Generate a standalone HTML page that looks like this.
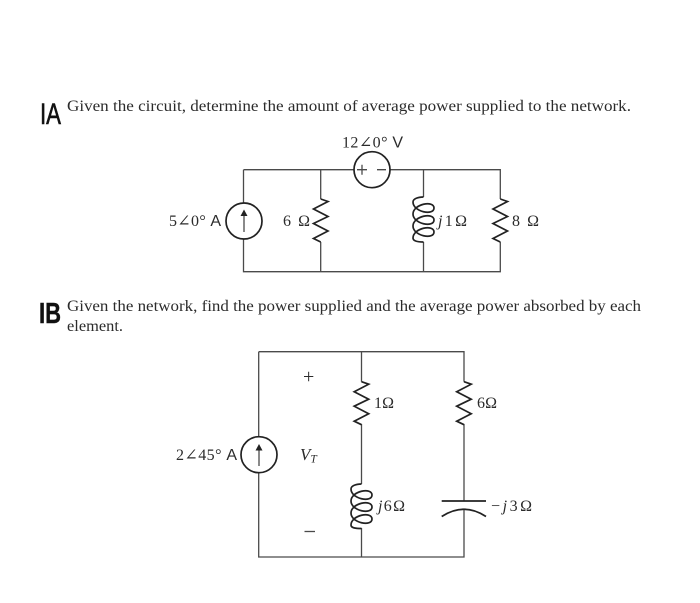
<!DOCTYPE html>
<html>
<head>
<meta charset="utf-8">
<style>
html,body{margin:0;padding:0;background:#fff;width:700px;height:603px;overflow:hidden}
svg{display:block;filter:blur(0.35px)}
text{font-family:"Liberation Serif","DejaVu Serif",serif;fill:#2b2b2b}
.sans{font-family:"Liberation Sans",sans-serif}
.w{fill:none;stroke:#4a4a4a;stroke-width:1.3}
.e{fill:none;stroke:#222;stroke-width:1.7;stroke-linejoin:miter}
.s{fill:#fff;stroke:#222;stroke-width:1.7}
</style>
</head>
<body>
<svg width="700" height="603" viewBox="0 0 700 603" xmlns="http://www.w3.org/2000/svg">
<rect width="700" height="603" fill="#fff"/>

<!-- handwritten labels -->
<text x="40" y="124" font-size="30" textLength="21" lengthAdjust="spacingAndGlyphs" style="fill:#111;stroke:#111;stroke-width:0.6;font-family:'Liberation Sans',sans-serif">IA</text>
<text x="39" y="323" font-size="29" font-weight="bold" textLength="22" lengthAdjust="spacingAndGlyphs" style="fill:#111;stroke:#111;stroke-width:0.4;font-family:'Liberation Sans',sans-serif">IB</text>

<!-- paragraphs -->
<text x="67" y="111" font-size="15.5" textLength="564" lengthAdjust="spacingAndGlyphs">Given the circuit, determine the amount of average power supplied to the network.</text>
<text x="67" y="311" font-size="15.5" textLength="574" lengthAdjust="spacingAndGlyphs">Given the network, find the power supplied and the average power absorbed by each</text>
<text x="67" y="331" font-size="15.5" textLength="56" lengthAdjust="spacingAndGlyphs">element.</text>

<!-- circuit A wires -->
<path class="w" d="M243.5 169.7H500.3V199M500.3 242V271.7H243.5V169.7M320.7 169.7V199M320.7 242V271.7M423.5 169.7V197M423.5 242V271.7"/>

<!-- circuit A current source -->
<circle class="s" cx="244" cy="221" r="18"/>
<path class="w" d="M244 232V214"/>
<path d="M244 209.5L240.5 216H247.5Z" fill="#222"/>

<!-- circuit A voltage source -->
<circle class="s" cx="372" cy="169.7" r="18"/>
<path class="w" d="M357 169.7H367M362 164.7V174.7M377 169.7H386"/>

<!-- circuit A resistors -->
<path class="e" d="M320.7 199L328 201.5L313.5 209L328 216.5L313.5 223.5L328 231L313.5 238.5L320.7 242"/>
<path class="e" d="M500.3 199L507.5 201.5L493 209L507.5 216.5L493 223.5L507.5 231L493 238.5L500.3 242"/>

<!-- circuit A inductor -->
<path class="e" d="M423.5 197c-6 0-10.500 2-10.500 5c0 10 21 14 21 6c0-8-21-4-21 6c0 10 21 14 21 6c0-8-21-4-21 6c0 10 21 14 21 6c0-8-21-4-21 6c0 3 4.500 4 10.500 4"/>

<!-- circuit A labels -->
<text x="342" y="147.500" font-size="16" textLength="61">12∠0° <tspan class="sans">V</tspan></text>
<text x="169" y="226" font-size="16" textLength="52">5∠0° <tspan class="sans">A</tspan></text>
<text x="283" y="226" font-size="16" textLength="27">6 Ω</text>
<text x="438" y="226" font-size="16" textLength="29"><tspan font-style="italic">j</tspan>1Ω</text>
<text x="512" y="226" font-size="16" textLength="27">8 Ω</text>

<!-- circuit B wires -->
<path class="w" d="M258.700 351.700H464V381.700M464 424V501M464 509V557H258.700V351.700M361.500 351.700V381.700M361.500 424V484M361.500 528V557"/>

<!-- circuit B current source -->
<circle class="s" cx="259" cy="454.700" r="18"/>
<path class="w" d="M259 466V448"/>
<path d="M259 444L255.500 450.500H262.500Z" fill="#222"/>

<!-- circuit B resistors -->
<path class="e" d="M361.500 381.700L368.700 384.200L354.200 391.700L368.700 399.200L354.200 406.200L368.700 413.700L354.200 421.200L361.500 424.700"/>
<path class="e" d="M464 381.700L471.200 384.200L456.700 391.700L471.200 399.200L456.700 406.200L471.200 413.700L456.700 421.200L464 424.700"/>

<!-- circuit B inductor -->
<path class="e" d="M361.500 484c-6 0-10.500 2-10.500 5c0 10 21 14 21 6c0-8-21-4-21 6c0 10 21 14 21 6c0-8-21-4-21 6c0 10 21 14 21 6c0-8-21-4-21 6c0 3 4.500 3.500 10.500 3.500"/>

<!-- circuit B capacitor -->
<path class="e" d="M441.700 501H486"/>
<path class="e" d="M441.700 516.500Q464 502 486 516.500"/>

<!-- circuit B labels -->
<text x="176" y="460" font-size="16" textLength="61">2∠45° <tspan class="sans">A</tspan></text>
<text x="303" y="383" font-size="20" textLength="13">+</text>
<text x="300" y="460" font-size="17" font-style="italic">V<tspan font-size="11.500" dy="2.500">T</tspan></text>
<path class="w" d="M304.500 531.500H315"/>
<text x="374" y="408" font-size="16" textLength="20">1Ω</text>
<text x="477" y="408" font-size="16" textLength="20">6Ω</text>
<text x="378" y="511" font-size="16" textLength="27"><tspan font-style="italic">j</tspan>6Ω</text>
<text x="491" y="511" font-size="16" textLength="41">−<tspan font-style="italic">j</tspan>3Ω</text>
</svg>
</body>
</html>
